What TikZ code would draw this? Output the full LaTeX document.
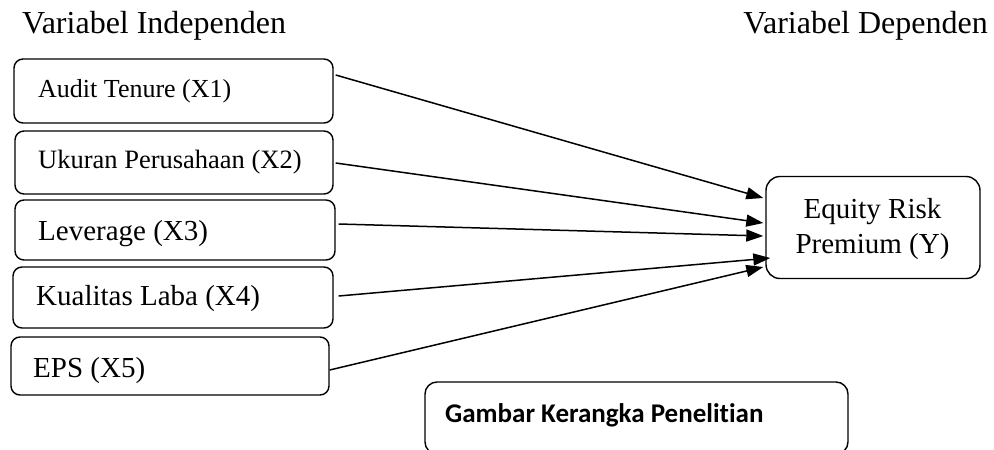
\documentclass[tikz,border=0pt]{standalone}
\usepackage{fontspec}
\setmainfont{Liberation Serif}
\newfontfamily\capfont[Ligatures=NoCommon]{Carlito}
\usetikzlibrary{arrows.meta,calc}
\tikzset{
  varbox/.style={draw, line width=1.4pt, rounded corners=9pt, inner sep=0pt},
  lbl/.style={anchor=base west, inner sep=0pt},
  conn/.style={line width=1.5pt, -{Triangle[length=17pt,width=12pt]}},
}
\begin{document}
\begin{tikzpicture}[x=1pt,y=-1pt]
\useasboundingbox (0,0) rectangle (994,450);
\begin{scope}
\clip (0,0) rectangle (994,450);
% titles
\node[lbl, font=\fontsize{32}{38}\selectfont] (ti) at (22,33) {Variabel Independen};
\node[anchor=base east, inner sep=0pt, font=\fontsize{32}{38}\selectfont] (td) at (988,33) {Variabel Dependen};
% boxes
\node[varbox, minimum width=319pt, minimum height=64pt] (b1) at (173.5,91) {};
\node[varbox, minimum width=318pt, minimum height=63pt] (b2) at (174,162.5) {};
\node[varbox, minimum width=320pt, minimum height=60pt] (b3) at (175,230) {};
\node[varbox, minimum width=320pt, minimum height=61pt] (b4) at (173,297.5) {};
\node[varbox, minimum width=318pt, minimum height=58pt] (b5) at (170,366) {};
\node[varbox, rounded corners=14pt, minimum width=214pt, minimum height=102pt] (by) at (873,227.5) {};
\node[varbox, rounded corners=12pt, minimum width=423pt, minimum height=72pt] (bc) at (636.5,418) {};
% texts
\node[lbl, font=\fontsize{26}{30}\selectfont] (t1) at (38,97) {Audit Tenure (X1)};
\node[lbl, font=\fontsize{26.5}{30}\selectfont] (t2) at (38,168) {Ukuran Perusahaan (X2)};
\node[lbl, font=\fontsize{29}{34}\selectfont] (t3) at (38,240) {Leverage (X3)};
\node[lbl, font=\fontsize{29}{34}\selectfont] (t4) at (36,305) {Kualitas Laba (X4)};
\node[lbl, font=\fontsize{29}{34}\selectfont] (t5) at (33,377) {EPS (X5)};
\node[anchor=base, inner sep=0pt, font=\fontsize{29}{34}\selectfont] (ty1) at (872.5,218) {Equity Risk};
\node[anchor=base, inner sep=0pt, font=\fontsize{29}{34}\selectfont] (ty2) at (872.5,253) {Premium (Y)};
\node[lbl, font=\capfont\bfseries\fontsize{27}{32}\selectfont] (tc) at (445,422) {Gambar Kerangka Penelitian};
% connectors
\draw[conn] ($(b1.east)+(2,-16)$) -- ($(by.west)+(-2,-29.5)$);
\draw[conn] ($(b2.east)+(2,0.5)$) -- ($(by.west)+(-2,-4.5)$);
\draw[conn] ($(b3.east)+(3,-6)$) -- ($(by.west)+(-2,8.5)$);
\draw[conn] ($(b4.east)+(5,-1.5)$) -- ($(by.west)+(5,30.5)$);
\draw[conn] ($(b5.east)+(0,4)$) -- ($(by.west)+(-2,39.5)$);
\end{scope}
\end{tikzpicture}
\end{document}
